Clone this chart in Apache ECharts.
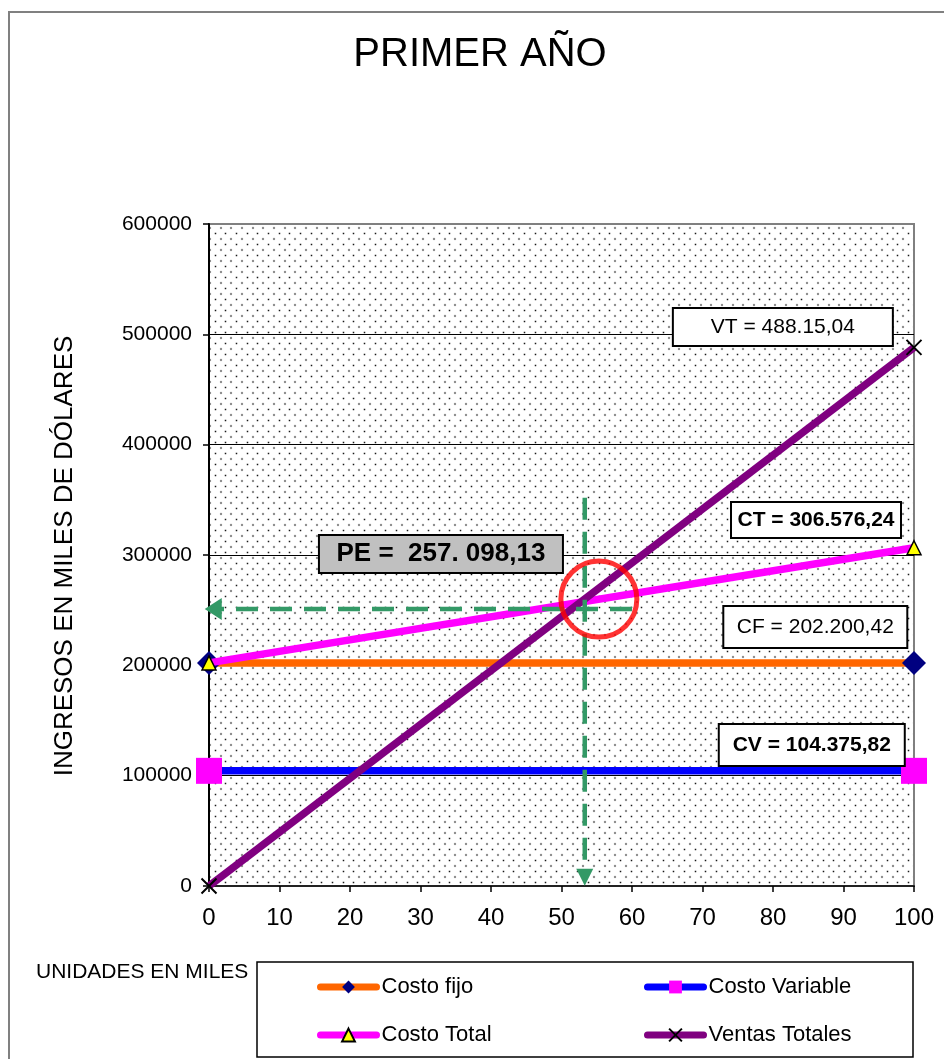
<!DOCTYPE html>
<html>
<head>
<meta charset="utf-8">
<script src="https://cdn.jsdelivr.net/npm/echarts/dist/echarts.min.js"></script>
<style>
  html, body { margin: 0; padding: 0; background: #ffffff; }
  #chart { width: 944px; height: 1059px; }
</style>
</head>
<body>
<div id="chart"></div>
<script>
// ---- Datos ----
const unidades       = [0, 100];                 // miles de unidades
const costoFijo      = [202200.42, 202200.42];
const costoVariable  = [104375.82, 104375.82];
const costoTotal     = [202200.42, 306576.24];
const ventasTotales  = [0, 488150.04];

const nombresSeries  = ['Costo fijo', 'Costo Variable', 'Costo Total', 'Ventas Totales'];
const ticksX         = [0, 10, 20, 30, 40, 50, 60, 70, 80, 90, 100];
const ticksY         = [0, 100000, 200000, 300000, 400000, 500000, 600000];

// Guías del punto de equilibrio (unidades, ingresos)
const guiaHorizontal = [[60, 251000], [0.6, 251000]];
const guiaVertical   = [[53.3, 352000], [53.3, 8000]];
const circuloPE      = [55.3, 260100];

const titulo         = 'PRIMER AÑO';
const tituloEjeY     = 'INGRESOS EN MILES DE DÓLARES';
const tituloEjeX     = 'UNIDADES EN MILES';
const textoVT        = 'VT = 488.15,04';
const textoCT        = 'CT = 306.576,24';
const textoCF        = 'CF = 202.200,42';
const textoCV        = 'CV = 104.375,82';
const textoPE        = 'PE =  257. 098,13';

const FONT = '"Liberation Sans", Arial, Helvetica, sans-serif';

// ---- Trama de puntos del área de trazado ----
function tramaPuntos() {
  const c = document.createElement('canvas');
  c.width = 32; c.height = 11;
  const g = c.getContext('2d');
  g.fillStyle = '#ffffff';
  g.fillRect(0, 0, c.width, c.height);
  // fila superior y fila desplazada medio paso
  [[2.5, [1.5, 12.5, 23.5]], [8, [7, 18, 29]]].forEach(([y, xs]) => {
    xs.forEach(x => {
      g.fillStyle = 'rgba(0,0,0,0.12)';
      g.beginPath(); g.arc(x, y, 1.4, 0, Math.PI * 2); g.fill();
      g.fillStyle = '#1a1a1a';
      g.beginPath(); g.arc(x, y, 0.75, 0, Math.PI * 2); g.fill();
    });
  });
  return c;
}

const pares = (xs, ys) => xs.map((x, i) => [x, ys[i]]);

const chart = echarts.init(document.getElementById('chart'), null, { renderer: 'canvas' });

const lineaSerie = (nombre, datos, color, simbolo, tam, estiloItem, z) => ({
  name: nombre,
  type: 'line',
  data: pares(unidades, datos),
  symbol: simbolo,
  symbolSize: tam,
  showAllSymbol: true,
  clip: false,
  z: z,
  lineStyle: { color: color, width: 7.5, cap: 'butt' },
  itemStyle: estiloItem,
  emphasis: { disabled: true },
  animation: false
});

const legendaBase = {
  padding: 0,
  itemWidth: 56,
  itemHeight: 16,
  textStyle: { fontFamily: FONT, fontSize: 22, color: '#000' },
  lineStyle: { width: 7, cap: 'round' },
  selectedMode: false
};

const option = {
  animation: false,
  backgroundColor: '#ffffff',
  grid: {
    left: 209, top: 224, width: 705, height: 662,
    show: true,
    backgroundColor: { image: tramaPuntos(), repeat: 'repeat' },
    borderColor: '#808080',
    borderWidth: 2,
    containLabel: false
  },
  xAxis: {
    type: 'value',
    min: ticksX[0], max: ticksX[ticksX.length - 1], interval: 10,
    axisLine: { show: true, onZero: false, lineStyle: { color: '#222', width: 2 } },
    axisTick: { show: true, inside: false, length: 6, lineStyle: { color: '#000', width: 1.5 } },
    axisLabel: { margin: 20, fontFamily: FONT, fontSize: 24, color: '#000', formatter: v => String(v) },
    splitLine: { show: false }
  },
  yAxis: {
    type: 'value',
    min: ticksY[0], max: ticksY[ticksY.length - 1], interval: 100000,
    axisLine: { show: true, onZero: false, lineStyle: { color: '#000', width: 2 } },
    axisTick: { show: true, inside: false, length: 6, lineStyle: { color: '#000', width: 1.5 } },
    axisLabel: { margin: 17, fontFamily: FONT, fontSize: 21, color: '#000', formatter: v => String(v) },
    splitLine: { show: true, showMinLine: false, showMaxLine: false, lineStyle: { color: '#000', width: 1 } }
  },
  legend: [
    Object.assign({}, legendaBase, { data: [nombresSeries[0]], left: 317, top: 976 }),
    Object.assign({}, legendaBase, { data: [nombresSeries[1]], left: 644, top: 976 }),
    Object.assign({}, legendaBase, { data: [nombresSeries[2]], left: 317, top: 1024 }),
    Object.assign({}, legendaBase, { data: [nombresSeries[3]], left: 644, top: 1024 })
  ],
  series: [
    lineaSerie(nombresSeries[0], costoFijo, '#FF6600', 'diamond', 24,
      { color: '#000080', borderWidth: 0 }, 3),
    lineaSerie(nombresSeries[1], costoVariable, '#0000FF', 'rect', 26,
      { color: '#FF00FF', borderWidth: 0 }, 4),
    lineaSerie(nombresSeries[2], costoTotal, '#FF00FF', 'triangle', 14,
      { color: '#FFFF00', borderColor: '#000', borderWidth: 1.5 }, 5),
    lineaSerie(nombresSeries[3], ventasTotales, '#800080', 'path://M0,0L10,10M10,0L0,10', 15,
      { color: '#000', borderColor: '#000', borderWidth: 2 }, 6),
    {
      name: 'guia-h',
      type: 'line',
      z: 8,
      clip: false,
      data: [
        { value: guiaHorizontal[0], symbol: 'none' },
        { value: guiaHorizontal[1], symbol: 'triangle', symbolSize: [22, 17], symbolRotate: 90 }
      ],
      lineStyle: { color: '#339966', width: 4.5, type: [22, 12] },
      itemStyle: { color: '#339966', borderWidth: 0 },
      emphasis: { disabled: true }
    },
    {
      name: 'guia-v',
      type: 'line',
      z: 8,
      clip: false,
      data: [
        { value: guiaVertical[0], symbol: 'none' },
        { value: guiaVertical[1], symbol: 'triangle', symbolSize: [17, 17], symbolRotate: 180 }
      ],
      lineStyle: { color: '#339966', width: 4.5, type: [22, 12] },
      itemStyle: { color: '#339966', borderWidth: 0 },
      emphasis: { disabled: true }
    },
    {
      name: 'pe',
      type: 'scatter',
      z: 9,
      data: [circuloPE],
      symbol: 'circle',
      symbolSize: 76,
      itemStyle: { color: 'rgba(0,0,0,0)', borderColor: '#FF0000', borderWidth: 5 },
      emphasis: { disabled: true }
    }
  ]
};

chart.setOption(option);

// ---- Cuadros de texto anclados a coordenadas de datos ----
const notas = [
  { texto: textoVT, en: [81.4, 506650], w: 220, h: 38, peso: 'normal', tam: 21, fondo: '#ffffff' },
  { texto: textoCT, en: [86.1, 331700], w: 170, h: 36, peso: 'bold',   tam: 21, fondo: '#ffffff' },
  { texto: textoCF, en: [86.0, 234750], w: 184, h: 42, peso: 'normal', tam: 21, fondo: '#ffffff' },
  { texto: textoCV, en: [85.5, 127800], w: 186, h: 42, peso: 'bold',   tam: 21, fondo: '#ffffff' },
  { texto: textoPE, en: [32.9, 300900], w: 244, h: 38, peso: 'bold',   tam: 26, fondo: '#C0C0C0' }
];

const graficos = [
  // marco exterior
  { type: 'rect', z: 0, silent: true,
    shape: { x: 9, y: 12, width: 1000, height: 1100 },
    style: { fill: 'none', stroke: '#808080', lineWidth: 2 } },
  // título
  { type: 'text', z: 10, silent: true, x: 480, y: 55,
    style: { text: titulo, font: '40px ' + FONT, fill: '#000', align: 'center', verticalAlign: 'middle' } },
  // título del eje Y
  { type: 'text', z: 10, silent: true, x: 65, y: 556, rotation: Math.PI / 2,
    style: { text: tituloEjeY, font: '26px ' + FONT, fill: '#000', align: 'center', verticalAlign: 'middle' } },
  // título del eje X
  { type: 'text', z: 10, silent: true, x: 36, y: 972,
    style: { text: tituloEjeX, font: '21px ' + FONT, fill: '#000', align: 'left', verticalAlign: 'middle' } },
  // marco de la leyenda
  { type: 'rect', z: 1, silent: true,
    shape: { x: 257, y: 962, width: 656, height: 95 },
    style: { fill: '#ffffff', stroke: '#000', lineWidth: 1.5 } }
];

notas.forEach(n => {
  const p = chart.convertToPixel({ gridIndex: 0 }, n.en);
  graficos.push({
    type: 'group', x: p[0], y: p[1], z: 50, silent: true,
    children: [
      { type: 'rect', z: 50,
        shape: { x: -n.w / 2, y: -n.h / 2, width: n.w, height: n.h },
        style: { fill: n.fondo, stroke: '#000', lineWidth: 2 } },
      { type: 'text', z: 51,
        style: { text: n.texto, font: n.peso + ' ' + n.tam + 'px ' + FONT, fill: '#000',
                 align: 'center', verticalAlign: 'middle', x: 0, y: 0 } }
    ]
  });
});

chart.setOption({ graphic: graficos });
</script>
</body>
</html>
